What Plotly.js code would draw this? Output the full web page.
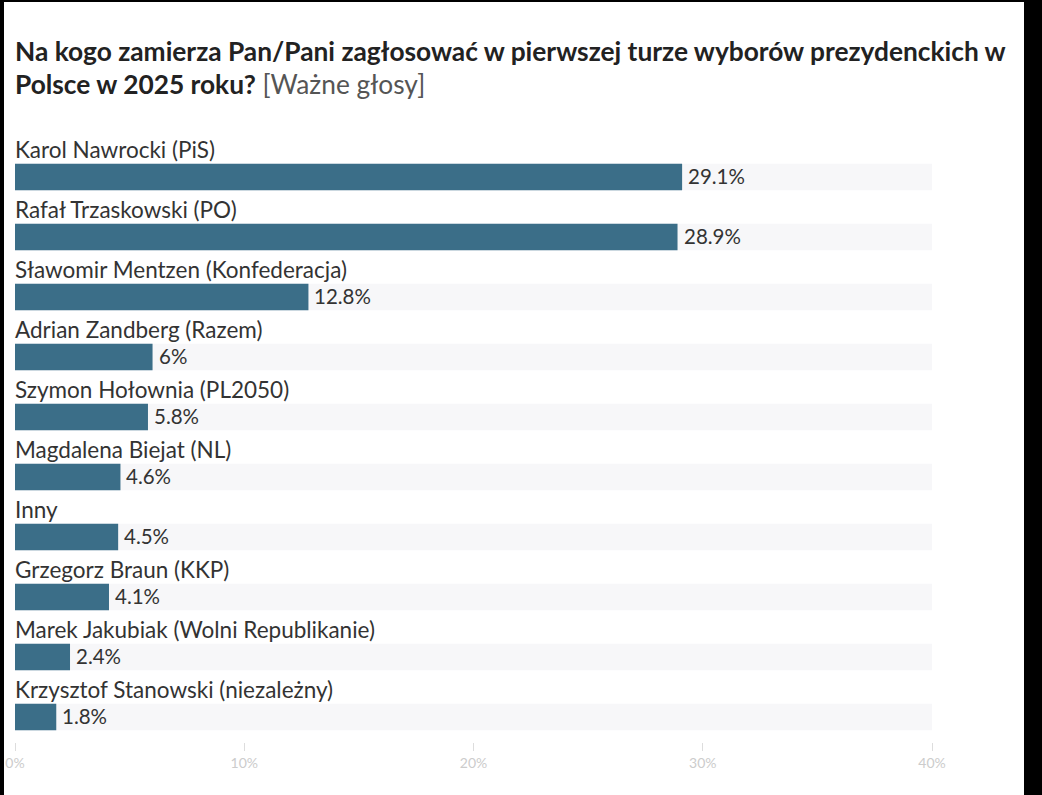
<!DOCTYPE html>
<html>
<head>
<meta charset="utf-8">
<script src="https://cdn.plot.ly/plotly-3.0.1.min.js"></script>
<style>
  html, body { margin: 0; padding: 0; background: #000; width: 1042px; height: 795px; overflow: hidden; }
  #chart { position: absolute; left: 4px; top: 2px; width: 1020px; height: 793px; background: #fff; }
</style>
</head>
<body>
<div id="chart"></div>
<script>
const categories = [
  "Karol Nawrocki (PiS)",
  "Rafał Trzaskowski (PO)",
  "Sławomir Mentzen (Konfederacja)",
  "Adrian Zandberg (Razem)",
  "Szymon Hołownia (PL2050)",
  "Magdalena Biejat (NL)",
  "Inny",
  "Grzegorz Braun (KKP)",
  "Marek Jakubiak (Wolni Republikanie)",
  "Krzysztof Stanowski (niezależny)"
];
const values = [29.1, 28.9, 12.8, 6, 5.8, 4.6, 4.5, 4.1, 2.4, 1.8];
const valueLabels = ["29.1%", "28.9%", "12.8%", "6%", "5.8%", "4.6%", "4.5%", "4.1%", "2.4%", "1.8%"];
const axisMax = 40;
const tickValues = [0, 10, 20, 30, 40];
const tickLabels = ["0%", "10%", "20%", "30%", "40%"];
const titleLine1 = "Na kogo zamierza Pan/Pani zagłosować w pierwszej turze wyborów prezydenckich w";
const titleLine2Bold = "Polsce w 2025 roku?";
const titleLine2Rest = "[Ważne głosy]";

const idx = categories.map((_, i) => i);
const barWidth = 0.44;

const bgTrace = {
  type: "bar", orientation: "h",
  x: categories.map(() => axisMax), y: idx,
  width: barWidth,
  marker: { color: "#f7f7f9" },
  hoverinfo: "skip", showlegend: false
};
const mainTrace = {
  type: "bar", orientation: "h",
  x: values, y: idx,
  width: barWidth,
  marker: { color: "#3b6e88" },
  showlegend: false
};

const annotations = [];
categories.forEach((c, i) => {
  annotations.push({
    xref: "x", yref: "y", x: 0, y: i, xanchor: "left", yanchor: "middle",
    yshift: 28, xshift: -2, text: c, showarrow: false,
    font: { family: "Lato", size: 22.5, color: "#333333" }
  });
  annotations.push({
    xref: "x", yref: "y", x: values[i], y: i, xanchor: "left", yanchor: "middle",
    xshift: 4, yshift: 1, text: valueLabels[i], showarrow: false,
    font: { family: "Lato", size: 20.5, color: "#333333" }
  });
});
annotations.push({
  xref: "paper", yref: "paper", x: 0, y: 1, xanchor: "left", yanchor: "middle",
  yshift: 96, xshift: -2, text: "<b>" + titleLine1 + "</b>", showarrow: false,
  font: { family: "Lato", size: 26.3, color: "#222222" }
});
annotations.push({
  xref: "paper", yref: "paper", x: 0, y: 1, xanchor: "left", yanchor: "middle",
  yshift: 63, xshift: -2, text: "<b>" + titleLine2Bold + "</b> <span style='color:#555555'>" + titleLine2Rest + "</span>", showarrow: false,
  font: { family: "Lato", size: 26.3, color: "#222222" }
});

const layout = {
  width: 1020, height: 793,
  margin: { l: 11, r: 92, t: 145, b: 53 },
  paper_bgcolor: "#ffffff", plot_bgcolor: "#ffffff",
  barmode: "overlay",
  font: { family: "Lato" },
  xaxis: {
    range: [0, axisMax], tickvals: tickValues, ticktext: tickLabels,
    ticks: "outside", ticklen: 8, tickcolor: "#dddddd", tickwidth: 1,
    showgrid: false, zeroline: false, showline: false,
    tickfont: { family: "Lato", size: 14, color: "#cccccc" }
  },
  yaxis: {
    range: [9 + 25 / 60, -0.5], showticklabels: false, showgrid: false,
    zeroline: false, showline: false, ticks: ""
  },
  annotations: annotations
};

Plotly.newPlot("chart", [bgTrace, mainTrace], layout, { displayModeBar: false, staticPlot: true });
</script>
</body>
</html>
